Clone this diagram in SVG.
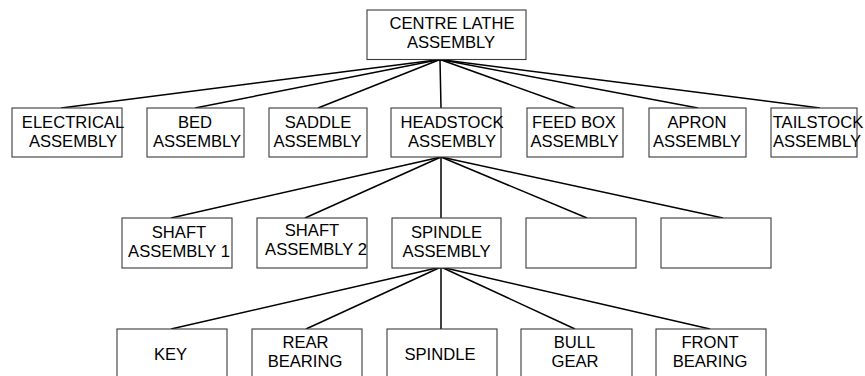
<svg xmlns="http://www.w3.org/2000/svg" width="865" height="376" viewBox="0 0 865 376">
<style>
.box{fill:#fff;stroke:#3a3a3a;stroke-width:1.1}
.t{font-family:"Liberation Sans",Arial,sans-serif;font-size:16.6px;fill:#000;text-anchor:middle}
.c{stroke:#000;stroke-width:1.5;fill:none}
</style>
<rect width="865" height="376" fill="#fff"/>
<g id="connectors">
<line class="c" x1="440" y1="59.5" x2="61" y2="108"/>
<line class="c" x1="440" y1="59.5" x2="195" y2="108"/>
<line class="c" x1="440" y1="59.5" x2="318" y2="108"/>
<line class="c" x1="440" y1="59.5" x2="441" y2="108"/>
<line class="c" x1="440" y1="59.5" x2="575" y2="108"/>
<line class="c" x1="440" y1="59.5" x2="698" y2="108"/>
<line class="c" x1="440" y1="59.5" x2="820" y2="108"/>
<line class="c" x1="441" y1="157" x2="171" y2="218"/>
<line class="c" x1="441" y1="157" x2="305" y2="218"/>
<line class="c" x1="441" y1="157" x2="441" y2="218"/>
<line class="c" x1="441" y1="157" x2="587" y2="218"/>
<line class="c" x1="441" y1="157" x2="723" y2="218"/>
<line class="c" x1="441" y1="267" x2="171" y2="329"/>
<line class="c" x1="441" y1="267" x2="306" y2="329"/>
<line class="c" x1="441" y1="267" x2="441" y2="329"/>
<line class="c" x1="441" y1="267" x2="575" y2="329"/>
<line class="c" x1="441" y1="267" x2="710" y2="329"/>
</g>
<g id="root"><rect class="box" x="367" y="10" width="159" height="49.5"/><text class="t" x="452" y="29">CENTRE LATHE</text><text class="t" x="451" y="48">ASSEMBLY</text></g>
<g id="electrical"><rect class="box" x="12" y="108" width="110" height="49"/><text class="t" x="73" y="128">ELECTRICAL</text><text class="t" x="73" y="147">ASSEMBLY</text></g>
<g id="bed"><rect class="box" x="147" y="108" width="97" height="49"/><text class="t" x="195" y="128">BED</text><text class="t" x="197" y="147">ASSEMBLY</text></g>
<g id="saddle"><rect class="box" x="269" y="108" width="98" height="49"/><text class="t" x="318" y="128">SADDLE</text><text class="t" x="317.5" y="147">ASSEMBLY</text></g>
<g id="headstock"><rect class="box" x="391" y="108" width="110" height="49"/><text class="t" x="452" y="128">HEADSTOCK</text><text class="t" x="452" y="147">ASSEMBLY</text></g>
<g id="feedbox"><rect class="box" x="527" y="108" width="96" height="49"/><text class="t" x="574" y="128">FEED BOX</text><text class="t" x="574.5" y="147">ASSEMBLY</text></g>
<g id="apron"><rect class="box" x="649" y="108" width="97" height="49"/><text class="t" x="697" y="128">APRON</text><text class="t" x="697" y="147">ASSEMBLY</text></g>
<g id="tailstock"><rect class="box" x="771" y="108" width="86" height="49"/><text class="t" x="818" y="128">TAILSTOCK</text><text class="t" x="817" y="147">ASSEMBLY</text></g>
<g id="shaft1"><rect class="box" x="122" y="218" width="110" height="50"/><text class="t" x="179" y="237.5">SHAFT</text><text class="t" x="179" y="256.5">ASSEMBLY 1</text></g>
<g id="shaft2"><rect class="box" x="257" y="218" width="110" height="50"/><text class="t" x="312" y="236">SHAFT</text><text class="t" x="316" y="255">ASSEMBLY 2</text></g>
<g id="spindleassembly"><rect class="box" x="392" y="218" width="109" height="50"/><text class="t" x="446.5" y="237.5">SPINDLE</text><text class="t" x="446.5" y="256.5">ASSEMBLY</text></g>
<g id="blank1"><rect class="box" x="526" y="218" width="110" height="50"/></g>
<g id="blank2"><rect class="box" x="661" y="218" width="110" height="50"/></g>
<g id="key"><rect class="box" x="117" y="329" width="110" height="60"/><text class="t" x="170.5" y="360">KEY</text></g>
<g id="rearbearing"><rect class="box" x="252" y="329" width="110" height="60"/><text class="t" x="305.5" y="348">REAR</text><text class="t" x="305" y="367">BEARING</text></g>
<g id="spindle"><rect class="box" x="387" y="329" width="110" height="60"/><text class="t" x="440" y="360">SPINDLE</text></g>
<g id="bullgear"><rect class="box" x="521" y="329" width="111" height="60"/><text class="t" x="574.5" y="348">BULL</text><text class="t" x="575" y="367">GEAR</text></g>
<g id="frontbearing"><rect class="box" x="656" y="329" width="110" height="60"/><text class="t" x="710" y="348">FRONT</text><text class="t" x="710" y="367">BEARING</text></g>
</svg>
